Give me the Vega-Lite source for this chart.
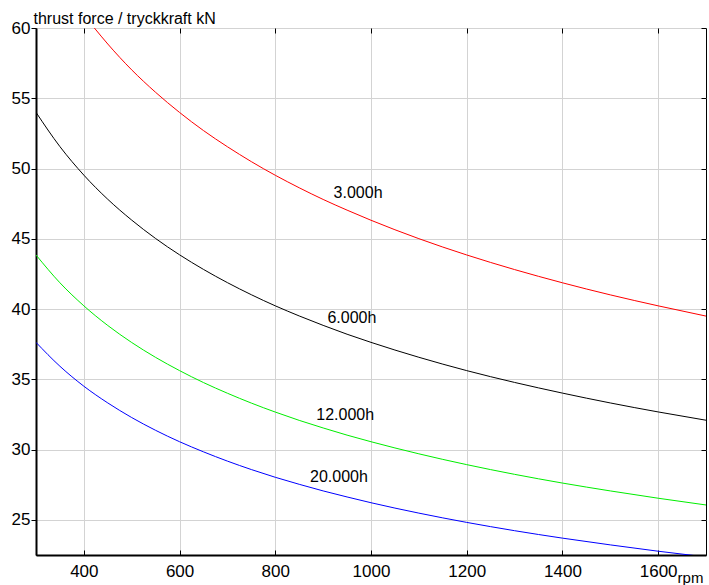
{
  "$schema": "https://vega.github.io/schema/vega-lite/v6.json",
  "width": 670,
  "height": 527,
  "autosize": "none",
  "padding": {"left": 36, "top": 28, "right": 3, "bottom": 30},
  "background": "white",
  "config": {
    "view": {"stroke": "black", "strokeWidth": 1},
    "font": "Liberation Sans",
    "axis": {"labelFont": "Liberation Sans", "titleFont": "Liberation Sans", "labelColor": "black", "titleColor": "black", "domainColor": "black", "tickColor": "black", "gridColor": "#d3d3d3", "gridWidth": 1}
  },
  "datasets": {
    "curves": [
      {"rpm": 422, "kN": 60.0, "series": "3.000h"},
      {"rpm": 450, "kN": 58.86, "series": "3.000h"},
      {"rpm": 500, "kN": 57.02, "series": "3.000h"},
      {"rpm": 550, "kN": 55.42, "series": "3.000h"},
      {"rpm": 600, "kN": 53.99, "series": "3.000h"},
      {"rpm": 650, "kN": 52.70, "series": "3.000h"},
      {"rpm": 700, "kN": 51.55, "series": "3.000h"},
      {"rpm": 750, "kN": 50.49, "series": "3.000h"},
      {"rpm": 800, "kN": 49.52, "series": "3.000h"},
      {"rpm": 850, "kN": 48.63, "series": "3.000h"},
      {"rpm": 900, "kN": 47.80, "series": "3.000h"},
      {"rpm": 950, "kN": 47.04, "series": "3.000h"},
      {"rpm": 1000, "kN": 46.32, "series": "3.000h"},
      {"rpm": 1100, "kN": 45.01, "series": "3.000h"},
      {"rpm": 1200, "kN": 43.85, "series": "3.000h"},
      {"rpm": 1300, "kN": 42.81, "series": "3.000h"},
      {"rpm": 1400, "kN": 41.87, "series": "3.000h"},
      {"rpm": 1500, "kN": 41.01, "series": "3.000h"},
      {"rpm": 1600, "kN": 40.23, "series": "3.000h"},
      {"rpm": 1700, "kN": 39.50, "series": "3.000h"},
      {"rpm": 300, "kN": 54.00, "series": "6.000h"},
      {"rpm": 350, "kN": 51.56, "series": "6.000h"},
      {"rpm": 400, "kN": 49.53, "series": "6.000h"},
      {"rpm": 450, "kN": 47.81, "series": "6.000h"},
      {"rpm": 500, "kN": 46.33, "series": "6.000h"},
      {"rpm": 550, "kN": 45.02, "series": "6.000h"},
      {"rpm": 600, "kN": 43.86, "series": "6.000h"},
      {"rpm": 650, "kN": 42.82, "series": "6.000h"},
      {"rpm": 700, "kN": 41.88, "series": "6.000h"},
      {"rpm": 750, "kN": 41.02, "series": "6.000h"},
      {"rpm": 800, "kN": 40.23, "series": "6.000h"},
      {"rpm": 850, "kN": 39.51, "series": "6.000h"},
      {"rpm": 900, "kN": 38.84, "series": "6.000h"},
      {"rpm": 950, "kN": 38.21, "series": "6.000h"},
      {"rpm": 1000, "kN": 37.63, "series": "6.000h"},
      {"rpm": 1100, "kN": 36.57, "series": "6.000h"},
      {"rpm": 1200, "kN": 35.62, "series": "6.000h"},
      {"rpm": 1300, "kN": 34.78, "series": "6.000h"},
      {"rpm": 1400, "kN": 34.02, "series": "6.000h"},
      {"rpm": 1500, "kN": 33.32, "series": "6.000h"},
      {"rpm": 1600, "kN": 32.68, "series": "6.000h"},
      {"rpm": 1700, "kN": 32.09, "series": "6.000h"},
      {"rpm": 300, "kN": 43.85, "series": "12.000h"},
      {"rpm": 350, "kN": 41.87, "series": "12.000h"},
      {"rpm": 400, "kN": 40.23, "series": "12.000h"},
      {"rpm": 450, "kN": 38.83, "series": "12.000h"},
      {"rpm": 500, "kN": 37.62, "series": "12.000h"},
      {"rpm": 550, "kN": 36.56, "series": "12.000h"},
      {"rpm": 600, "kN": 35.62, "series": "12.000h"},
      {"rpm": 650, "kN": 34.77, "series": "12.000h"},
      {"rpm": 700, "kN": 34.01, "series": "12.000h"},
      {"rpm": 750, "kN": 33.31, "series": "12.000h"},
      {"rpm": 800, "kN": 32.67, "series": "12.000h"},
      {"rpm": 850, "kN": 32.08, "series": "12.000h"},
      {"rpm": 900, "kN": 31.54, "series": "12.000h"},
      {"rpm": 950, "kN": 31.03, "series": "12.000h"},
      {"rpm": 1000, "kN": 30.56, "series": "12.000h"},
      {"rpm": 1100, "kN": 29.70, "series": "12.000h"},
      {"rpm": 1200, "kN": 28.93, "series": "12.000h"},
      {"rpm": 1300, "kN": 28.24, "series": "12.000h"},
      {"rpm": 1400, "kN": 27.62, "series": "12.000h"},
      {"rpm": 1500, "kN": 27.06, "series": "12.000h"},
      {"rpm": 1600, "kN": 26.54, "series": "12.000h"},
      {"rpm": 1700, "kN": 26.06, "series": "12.000h"},
      {"rpm": 300, "kN": 37.63, "series": "20.000h"},
      {"rpm": 350, "kN": 35.93, "series": "20.000h"},
      {"rpm": 400, "kN": 34.51, "series": "20.000h"},
      {"rpm": 450, "kN": 33.32, "series": "20.000h"},
      {"rpm": 500, "kN": 32.28, "series": "20.000h"},
      {"rpm": 550, "kN": 31.37, "series": "20.000h"},
      {"rpm": 600, "kN": 30.56, "series": "20.000h"},
      {"rpm": 650, "kN": 29.84, "series": "20.000h"},
      {"rpm": 700, "kN": 29.18, "series": "20.000h"},
      {"rpm": 750, "kN": 28.58, "series": "20.000h"},
      {"rpm": 800, "kN": 28.03, "series": "20.000h"},
      {"rpm": 850, "kN": 27.53, "series": "20.000h"},
      {"rpm": 900, "kN": 27.06, "series": "20.000h"},
      {"rpm": 950, "kN": 26.63, "series": "20.000h"},
      {"rpm": 1000, "kN": 26.22, "series": "20.000h"},
      {"rpm": 1100, "kN": 25.48, "series": "20.000h"},
      {"rpm": 1200, "kN": 24.82, "series": "20.000h"},
      {"rpm": 1300, "kN": 24.23, "series": "20.000h"},
      {"rpm": 1400, "kN": 23.70, "series": "20.000h"},
      {"rpm": 1500, "kN": 23.22, "series": "20.000h"},
      {"rpm": 1600, "kN": 22.77, "series": "20.000h"},
      {"rpm": 1700, "kN": 22.36, "series": "20.000h"}
    ],
    "labels": [
      {"rpm": 973, "kN": 48.25, "label": "3.000h"},
      {"rpm": 960, "kN": 39.36, "label": "6.000h"},
      {"rpm": 946, "kN": 32.46, "label": "12.000h"},
      {"rpm": 933, "kN": 28.06, "label": "20.000h"}
    ]
  },
  "resolve": {"axis": {"x": "independent", "y": "independent"}},
  "layer": [
    {
      "data": {"name": "curves"},
      "mark": {"type": "line", "strokeWidth": 1, "clip": true, "interpolate": "monotone"},
      "encoding": {
        "x": {
          "field": "rpm", "type": "quantitative",
          "scale": {"domain": [300, 1700], "nice": false, "zero": false},
          "axis": {
            "orient": "bottom", "values": [400, 600, 800, 1000, 1200, 1400, 1600], "format": "d",
            "grid": true, "tickSize": -5, "labelPadding": 13, "labelFontSize": 17,
            "domainWidth": 2, "title": "rpm", "titleFontSize": 15, "titleFontWeight": "normal",
            "titleX": 654, "titleY": 27, "titleAlign": "center", "titleBaseline": "alphabetic"
          }
        },
        "y": {
          "field": "kN", "type": "quantitative",
          "scale": {"domain": [22.5, 60], "nice": false, "zero": false},
          "axis": {
            "orient": "left", "values": [25, 30, 35, 40, 45, 50, 55, 60],
            "grid": true, "tickSize": 5, "labelPadding": 1, "labelFontSize": 17,
            "domainWidth": 2, "title": "thrust force / tryckkraft kN", "titleFontSize": 16,
            "titleFontWeight": "normal", "titleAngle": 0, "titleAlign": "left",
            "titleBaseline": "alphabetic", "titleX": -3, "titleY": -5
          }
        },
        "color": {
          "field": "series", "type": "nominal",
          "scale": {"domain": ["3.000h", "6.000h", "12.000h", "20.000h"], "range": ["#ff0000", "#000000", "#00ee00", "#0000ff"]},
          "legend": null
        },
        "detail": {"field": "series"}
      }
    },
    {
      "data": {"name": "labels"},
      "mark": {"type": "text", "fontSize": 16, "font": "Liberation Sans", "color": "black", "align": "center", "baseline": "middle"},
      "encoding": {
        "x": {
          "field": "rpm", "type": "quantitative",
          "axis": {"orient": "top", "values": [400, 600, 800, 1000, 1200, 1400, 1600], "labels": false, "grid": false, "tickSize": -5, "domain": false, "title": null}
        },
        "y": {
          "field": "kN", "type": "quantitative",
          "axis": {"orient": "right", "values": [25, 30, 35, 40, 45, 50, 55, 60], "labels": false, "grid": false, "tickSize": -5, "domain": false, "title": null}
        },
        "text": {"field": "label"}
      }
    }
  ]
}
